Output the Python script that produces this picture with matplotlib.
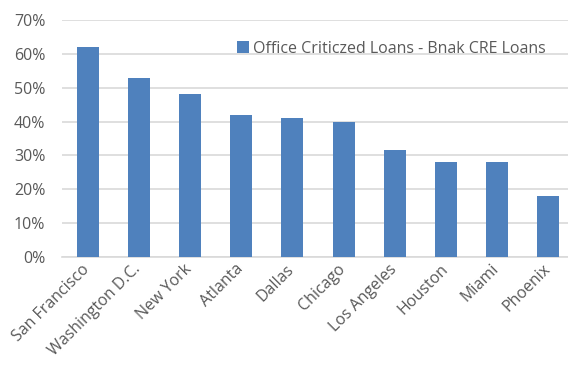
import numpy as np
import matplotlib.pyplot as plt
import matplotlib.transforms as mtransforms
from matplotlib.ticker import PercentFormatter

cities = ['San Francisco', 'Washington D.C.', 'New York', 'Atlanta', 'Dallas',
          'Chicago', 'Los Angeles', 'Houston', 'Miami', 'Phoenix']
share = [62, 53, 48, 42, 41, 40, 31.5, 28, 28, 18]
series_name = 'Office Criticzed Loans - Bnak CRE Loans'

plt.rcParams['font.family'] = ['Open Sans', 'DejaVu Sans']
grey = '#595959'

fig = plt.figure(figsize=(5.68, 3.66), dpi=100)
ax = fig.add_axes([62 / 568, 1 - 257 / 366, 512 / 568, 237 / 366])

x = np.arange(len(cities))
ax.bar(x, share, width=0.43, color='#4f81bd', label=series_name, zorder=3)

ax.set_xlim(-0.5, len(cities) - 0.5)
ax.set_ylim(0, 70)
ax.set_yticks(range(0, 71, 10))
ax.yaxis.set_major_formatter(PercentFormatter(decimals=0))
ax.grid(axis='y', color='#d9d9d9', linewidth=1.2, zorder=0)

ax.set_xticks(x)
ax.set_xticklabels(cities, rotation=45, ha='right', rotation_mode='anchor')
ax.tick_params(axis='both', length=0, labelsize=11.5, colors=grey)
ax.tick_params(axis='y', pad=12)
ax.tick_params(axis='x', pad=3)

# nudge the slanted city names a little to the left
shift = mtransforms.ScaledTranslation(-6 / 100, 0, fig.dpi_scale_trans)
for lbl in ax.get_xticklabels():
    lbl.set_transform(lbl.get_transform() + shift)

for side in ['top', 'right', 'left']:
    ax.spines[side].set_visible(False)
ax.spines['bottom'].set_color('#d9d9d9')
ax.spines['bottom'].set_linewidth(1.2)

leg = ax.legend(loc='upper left', bbox_to_anchor=(0.33, 0.94), frameon=False,
                fontsize=11.5, handlelength=0.7, handleheight=0.7,
                handletextpad=0.3, borderaxespad=0)
for t in leg.get_texts():
    t.set_color(grey)

fig.savefig('out.png', dpi=100)
